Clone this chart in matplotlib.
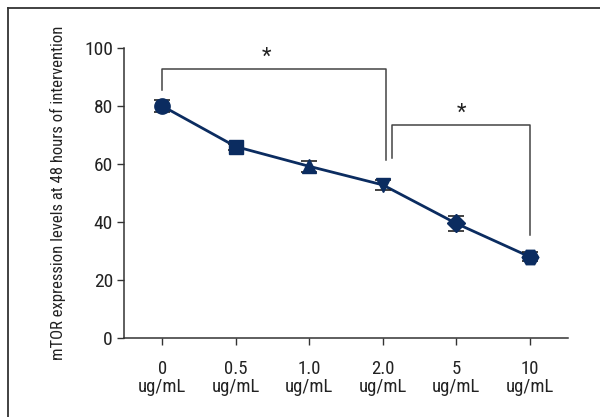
import matplotlib.pyplot as plt
import numpy as np

plt.rcParams['font.family'] = ['Roboto Condensed', 'DejaVu Sans']

labels = ['0\nug/mL', '0.5\nug/mL', '1.0\nug/mL', '2.0\nug/mL', '5\nug/mL', '10\nug/mL']
values = [80, 66, 59.2, 52.8, 39.5, 28]
errors = [2.0, 1.0, 2.0, 1.8, 2.7, 1.5]
markers = ['o', 's', '^', 'v', 'D', 'H']
sizes = [11, 10, 10, 10, 9, 12]

navy = '#0b2c60'
grey = '#444444'
txt = '#222222'

fig = plt.figure(figsize=(6, 4.17), dpi=100)
ax = fig.add_axes([124/600, 1 - 338/417, (568-124)/600, (338-48)/417])

# outer frame (open at right and bottom)
fig.add_artist(plt.Line2D([8/600, 8/600], [0, 1 - 8/417], transform=fig.transFigure,
                          color='#333333', lw=1.3))
fig.add_artist(plt.Line2D([8/600, 1], [1 - 8/417, 1 - 8/417], transform=fig.transFigure,
                          color='#333333', lw=1.3))

x = np.arange(len(values))
ax.plot(x, values, color=navy, lw=2, zorder=2)
ax.errorbar(x, values, yerr=errors, fmt='none', ecolor=txt, elinewidth=1.2,
            capsize=6, capthick=1.2, zorder=3)
for xi, v, m, s in zip(x, values, markers, sizes):
    ax.plot(xi, v, marker=m, ms=s, color=navy, mec=navy, zorder=4, linestyle='none')

# significance brackets
ax.plot([0, 0, 3.04, 3.04], [85.5, 92.7, 92.7, 61.5], color=grey, lw=1.1)
ax.text(1.42, 93.2, '*', ha='center', va='bottom', fontsize=16, color=txt)
ax.plot([3.13, 3.13, 5.0, 5.0], [62, 73.4, 73.4, 35.5], color=grey, lw=1.1)
ax.text(4.07, 73.9, '*', ha='center', va='bottom', fontsize=16, color=txt)

ax.set_xlim(-0.52, 5.52)
ax.set_ylim(0, 100)
ax.set_yticks([0, 20, 40, 60, 80, 100])
ax.set_xticks(x)
ax.set_xticklabels(labels, fontsize=13.5, color=txt, linespacing=1.0)
ax.tick_params(axis='y', labelsize=14, labelcolor=txt, length=5, width=1, color='#333333', pad=3)
ax.tick_params(axis='x', length=5, width=1, color='#333333', pad=11)
for side in ['top', 'right']:
    ax.spines[side].set_visible(False)
for side in ['left', 'bottom']:
    ax.spines[side].set_color('#333333')
    ax.spines[side].set_linewidth(1.1)
ax.set_ylabel('mTOR expression levels at 48 hours of intervention', fontsize=12,
              color=txt, labelpad=13)

fig.savefig('out.png', dpi=100)
